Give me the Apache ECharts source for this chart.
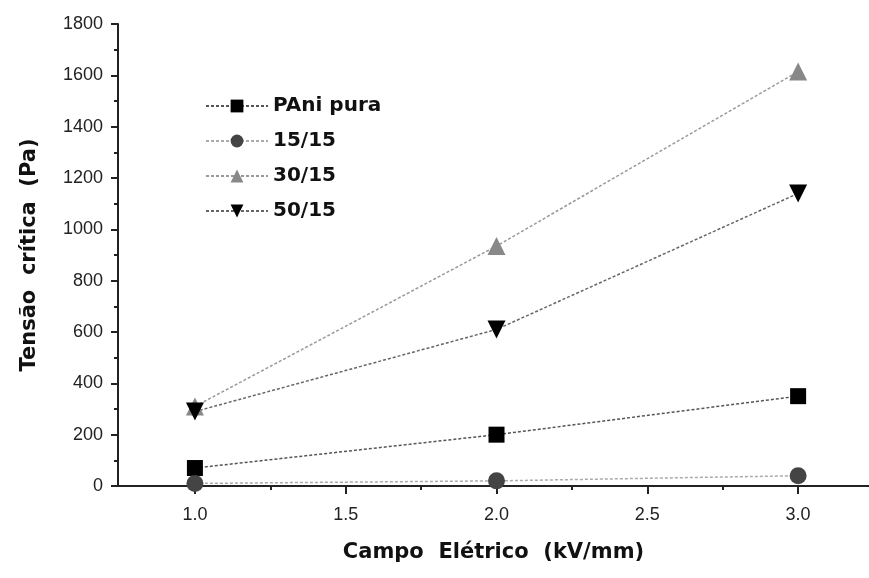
<!DOCTYPE html>
<html><head><meta charset="utf-8">
<script src="https://cdn.jsdelivr.net/npm/echarts@6/dist/echarts.min.js"></script>
<style>html,body{margin:0;padding:0;background:#fff}#c{width:869px;height:578px}</style>
</head><body><div id="c"></div>
<script>
const fieldValues = [1.0, 2.0, 3.0];
const seriesNames = ['PAni pura', '15/15', '30/15', '50/15'];
const paniPura = [70, 200, 350];
const s1515 = [10, 20, 40];
const s3015 = [310, 935, 1615];
const s5015 = [290, 610, 1140];
const xLabels = [1.0, 1.5, 2.0, 2.5, 3.0];
const xMinor = [1.25, 1.75, 2.25, 2.75];

const pts = arr => fieldValues.map((x, i) => [x, arr[i]]);
const chart = echarts.init(document.getElementById('c'));
const tickFont = {fontFamily: 'Liberation Sans', fontSize: 18, color: '#222'};
const titleFont = {fontFamily: 'DejaVu Sans', fontWeight: 'bold', fontSize: 21, color: '#111'};
const mk = (name, data, symbol, color, lineColor, rot, size) => ({
  name, type: 'line', data: pts(data), symbol, symbolSize: size, symbolRotate: rot || 0,
  itemStyle: {color}, lineStyle: {color: lineColor, type: [3, 2], width: 1.5},
  z: 3
});
chart.setOption({
  animation: false,
  grid: {left: 118, right: 0, top: 24, bottom: 92},
  legend: {
    left: 200, top: 91, orient: 'vertical', itemGap: 15, itemWidth: 62, itemHeight: 16,
    textStyle: {fontFamily: 'DejaVu Sans', fontWeight: 'bold', fontSize: 20, color: '#111'},
    data: seriesNames
  },
  xAxis: [{
    type: 'value', min: 0.745, max: 3.235,
    name: 'Campo  Elétrico  (kV/mm)', nameLocation: 'middle', nameGap: 56,
    nameTextStyle: titleFont,
    axisLine: {onZero: false, lineStyle: {color: '#222', width: 2}},
    axisTick: {customValues: xLabels, length: 8, lineStyle: {color: '#222', width: 2}},
    axisLabel: Object.assign({customValues: xLabels, margin: 20, formatter: v => v.toFixed(1)}, tickFont),
    splitLine: {show: false}
  }, {
    type: 'value', min: 0.745, max: 3.235, position: 'bottom',
    axisLine: {show: false},
    axisTick: {customValues: xMinor, length: 4, lineStyle: {color: '#222', width: 2}},
    axisLabel: {show: false}, splitLine: {show: false}
  }],
  yAxis: {
    type: 'value', min: 0, max: 1800, interval: 200,
    name: 'Tensão  crítica  (Pa)', nameLocation: 'middle', nameGap: 78,
    nameTextStyle: titleFont,
    axisLine: {show: true, lineStyle: {color: '#222', width: 2}},
    axisTick: {show: true, length: 7, lineStyle: {color: '#222', width: 2}},
    minorTick: {show: true, splitNumber: 2, length: 4, lineStyle: {color: '#222', width: 2}},
    axisLabel: Object.assign({margin: 15, formatter: v => String(v)}, tickFont),
    splitLine: {show: false}
  },
  series: [
    mk(seriesNames[0], paniPura, 'rect', '#000', '#555', 0, 16),
    mk(seriesNames[1], s1515, 'circle', '#444', '#aaa', 0, 17),
    mk(seriesNames[2], s3015, 'triangle', '#888', '#999', 0, 18),
    mk(seriesNames[3], s5015, 'triangle', '#000', '#666', 180, 18)
  ]
});
</script></body></html>
